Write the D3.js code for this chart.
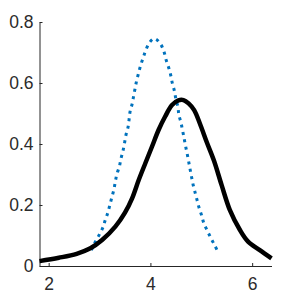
<!DOCTYPE html>
<html>
<head>
<meta charset="utf-8">
<script src="https://cdn.jsdelivr.net/npm/d3@7"></script>
<style>
  body { margin: 0; background: #fff; }
  .chart text { font-family: "Liberation Sans", Arial, sans-serif; fill: #2b2b2b; }
</style>
</head>
<body>
<div class="chart"></div>
<script>
// values
const blackX = [1.82, 2.20, 2.55, 2.82, 3.05, 3.31, 3.50, 3.64, 3.77, 3.90, 4.03, 4.16, 4.29, 4.42, 4.55, 4.65, 4.75, 4.86, 4.97, 5.11, 5.25, 5.40, 5.56, 5.76, 5.92, 6.15, 6.38];
const blackY = [0.016, 0.027, 0.040, 0.058, 0.085, 0.129, 0.175, 0.222, 0.282, 0.337, 0.391, 0.446, 0.490, 0.527, 0.543, 0.544, 0.533, 0.511, 0.468, 0.405, 0.345, 0.265, 0.184, 0.118, 0.080, 0.052, 0.025];

const blueX = [2.84, 2.90, 2.98, 3.06, 3.11, 3.16, 3.20, 3.24, 3.28, 3.31, 3.34, 3.39, 3.42, 3.46, 3.49, 3.52, 3.56, 3.58, 3.60, 3.64, 3.67, 3.70, 3.73, 3.77, 3.81, 3.86, 3.91, 3.98, 4.06, 4.11, 4.21, 4.27, 4.31, 4.36, 4.40, 4.43, 4.47, 4.50, 4.54, 4.56, 4.60, 4.63, 4.66, 4.69, 4.72, 4.75, 4.78, 4.81, 4.84, 4.88, 4.92, 4.96, 5.01, 5.05, 5.12, 5.19, 5.26, 5.32];
const blueY = [0.052, 0.074, 0.098, 0.124, 0.149, 0.173, 0.198, 0.224, 0.249, 0.276, 0.301, 0.326, 0.351, 0.377, 0.402, 0.430, 0.455, 0.479, 0.506, 0.531, 0.557, 0.583, 0.608, 0.634, 0.659, 0.684, 0.708, 0.732, 0.745, 0.744, 0.725, 0.701, 0.675, 0.650, 0.625, 0.600, 0.575, 0.548, 0.522, 0.495, 0.471, 0.446, 0.421, 0.394, 0.370, 0.344, 0.317, 0.291, 0.266, 0.240, 0.214, 0.189, 0.164, 0.140, 0.115, 0.091, 0.069, 0.049];

const xTicks = [2, 4, 6];
const yTicks = [0, 0.2, 0.4, 0.6, 0.8];

const width = 300;
const height = 300;
const margin = { top: 22, right: 28.5, bottom: 34, left: 39.5 };

const svg = d3.select(".chart")
    .append("svg")
    .attr("width", width)
    .attr("height", height);

const x = d3.scaleLinear()
    .domain([1.82, 6.38])
    .range([margin.left, width - margin.right]);

const y = d3.scaleLinear()
    .domain([0, 0.8])
    .range([height - margin.bottom, margin.top]);

// X axis
svg.append("g")
    .attr("transform", "translate(0," + (height - margin.bottom) + ")")
    .call(d3.axisBottom(x).tickValues(xTicks).tickFormat(d3.format("d"))
        .tickSizeInner(-3).tickSizeOuter(0).tickPadding(12));

// Y axis
svg.append("g")
    .attr("transform", "translate(" + margin.left + ",0)")
    .call(d3.axisLeft(y).tickValues(yTicks).tickFormat(d => d === 0 ? "0" : d3.format(".1f")(d))
        .tickSizeInner(-3).tickSizeOuter(0).tickPadding(6));

svg.selectAll(".domain").attr("stroke", "#262626").attr("stroke-width", 1);
svg.selectAll(".tick line").attr("stroke", "#262626");
svg.selectAll(".tick text").style("font-size", "17.5px");

const line = d3.line()
    .x(d => x(d[0]))
    .y(d => y(d[1]))
    .curve(d3.curveCatmullRom.alpha(0.5));

svg.append("path")
    .datum(blueX.map((v, i) => [v, blueY[i]]))
    .attr("d", line)
    .attr("fill", "none")
    .attr("stroke", "#0072BD")
    .attr("stroke-width", 3)
    .attr("stroke-dasharray", "3,4.5");

svg.append("path")
    .datum(blackX.map((v, i) => [v, blackY[i]]))
    .attr("d", line)
    .attr("fill", "none")
    .attr("stroke", "#000")
    .attr("stroke-width", 4.5)
    .attr("stroke-linejoin", "round");
</script>
</body>
</html>
